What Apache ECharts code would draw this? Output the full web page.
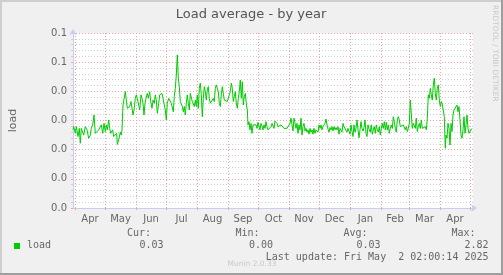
<!DOCTYPE html>
<html><head><meta charset="utf-8">
<script src="https://cdn.jsdelivr.net/npm/echarts@6/dist/echarts.min.js"></script>
<style>html,body{margin:0;padding:0;background:#f0f0f0;}#c{width:503px;height:275px;}</style>
</head><body><div id="c"></div>
<script>
// ---- data ----
const startDate = '2024-03-30';
const endDay = 400;
const monthStarts = ['2024-04-01','2024-05-01','2024-06-01','2024-07-01','2024-08-01','2024-09-01','2024-10-01','2024-11-01','2024-12-01','2025-01-01','2025-02-01','2025-03-01','2025-04-01','2025-05-01'];
const monthLabels = ['Apr','May','Jun','Jul','Aug','Sep','Oct','Nov','Dec','Jan','Feb','Mar','Apr'];
const yTickLabels = ['0.0','0.0','0.0','0.0','0.0','0.1','0.1'];
const days = [
0,0.7,2.3,3.3,5,6.3,7.3,8.3,9.7,10.7,12.3,14,15.7,17.3,18.3,19.7,21,22.3,24,25.7,27.3,28.3,29.7,31,32.3,33.3,34.3,35.7,36.7,37.7,39,39.7,40.7,41.7,42.7,43.7,44.3,45.7,47.3,48.3,49,50,51.3,52.3,53.3,54.3,55.7,56.7,58,59,60,61,62.3,63.3,64.3,65.3,66.7,68,69,70,71,72,73,74.3,75.3,76.7,77.7,79,80,81.3,82.3,83.3,84.3,85.7,86.7,87.7,89,90,91,92.3,93.3,94.3,95.7,
97,98.3,99.3,100.3,101.3,102.3,103.3,104.3,105.3,106.3,107.3,108.3,109.3,110.3,111.3,112.3,113.3,114.3,115.3,116.3,117.3,118.3,119.3,120.3,121.3,122.3,123.3,124.3,125.3,126.3,127.3,128.3,129.3,130.3,131.3,132.3,133.3,134.3,135.3,136.3,137.3,138.3,139.3,140.3,141.3,142.3,143.3,144.3,145.3,146.3,147.3,148.3,149.3,150.3,151.3,152.3,153.3,154.3,155.3,156.3,157.3,158.3,159.3,160.3,161.3,162.3,163.3,164.3,165.3,166.3,167.3,168.3,169.3,170.3,171.3,172.3,173.3,174.3,175,176,177,178,179,180,181,182,183,184,185,186,187,188,189,190,191,192,193,194,195,
196,197,198,199,200,201,202,203,204,205,206,207,208,209,210,211,212,213,214,215,216,217,218,219,220,221,222,223,224,225,226,227,228,229,230,231,232,233,234,235,236,237,238,239,240,241,242,243,244,245,246,247,248,249,250,251,252,253,254,255,256,257,258,259,260,261,262,263,264,265,266,267,268,269,270,271,272,273,274,275,276,277,278,279,280,281,282,283,284,285,286,287,288,289,290,291,292,293,294,
295,296.3,297.3,298.3,299.3,300.3,301.3,302.3,303.3,304.3,305.3,306.3,307.3,308.3,309.3,310.3,311.3,312.3,313.3,314.3,315.3,316.3,317.3,318.3,319.3,320.3,321.3,322.3,323.3,324.3,325.3,326.3,327.3,328.3,329.3,330.3,331.3,332.3,333.3,334.3,335.3,336.3,337.3,338.3,339.3,340.3,341.3,342.3,343.3,344.3,345.3,346.3,347.3,348.3,349.3,350.3,351.3,352.3,353.3,354.3,355.3,356.3,357.3,358.3,359.3,360.3,361.3,362.3,363.3,364.3,365.3,366.3,367.3,368.3,369.3,370.3,371.3,372.3,373,374,375,376,377,378,379,380,381,382,383,384,385,386,387,388,389,390,391,392,393,394,395,396,397,398,399
];
const load = [
0.0268,0.0279,0.0256,0.0279,0.0245,0.0273,0.0222,0.0273,0.0279,0.0250,0.0279,0.0268,0.0239,0.0250,0.0273,0.0285,0.0319,0.0256,0.0260,0.0268,0.0273,0.0285,0.0256,0.0290,0.0262,0.0285,0.0268,0.0302,0.0273,0.0256,0.0262,0.0268,0.0245,0.0250,0.0239,0.0256,0.0218,0.0233,0.0260,0.0250,0.0268,0.0353,0.0359,0.0399,0.0370,0.0342,0.0342,0.0348,0.0365,0.0359,0.0319,0.0336,0.0376,0.0388,0.0376,0.0382,0.0336,0.0388,0.0376,0.0359,0.0319,0.0359,0.0376,0.0393,0.0376,0.0399,0.0365,0.0342,0.0370,0.0359,0.0388,0.0370,0.0325,0.0359,0.0388,0.0390,0.0393,0.0396,0.0390,0.0336,0.0302,0.0359,0.0376,
0.0382,0.0359,0.0353,0.0330,0.0382,0.0410,0.0456,0.0525,0.0445,0.0416,0.0365,0.0359,0.0348,0.0330,0.0348,0.0319,0.0359,0.0388,0.0359,0.0336,0.0393,0.0388,0.0365,0.0359,0.0348,0.0370,0.0348,0.0388,0.0342,0.0410,0.0428,0.0388,0.0313,0.0376,0.0416,0.0399,0.0370,0.0405,0.0416,0.0376,0.0359,0.0365,0.0353,0.0376,0.0365,0.0410,0.0422,0.0424,0.0399,0.0359,0.0348,0.0388,0.0416,0.0393,0.0370,0.0365,0.0376,0.0365,0.0359,0.0388,0.0399,0.0428,0.0410,0.0365,0.0382,0.0399,0.0359,0.0342,0.0376,0.0399,0.0439,0.0376,0.0433,0.0353,0.0382,0.0393,0.0359,0.0336,0.0285,0.0296,0.0268,0.0290,0.0256,0.0285,0.0290,0.0279,0.0285,0.0273,0.0294,0.0279,0.0268,0.0290,0.0279,0.0268,0.0285,0.0273,0.0296,0.0279,0.0268,
0.0273,0.0262,0.0279,0.0290,0.0285,0.0273,0.0298,0.0302,0.0290,0.0279,0.0285,0.0273,0.0285,0.0279,0.0290,0.0273,0.0268,0.0279,0.0273,0.0276,0.0279,0.0290,0.0308,0.0313,0.0264,0.0308,0.0302,0.0273,0.0290,0.0256,0.0285,0.0268,0.0308,0.0250,0.0279,0.0290,0.0264,0.0273,0.0260,0.0268,0.0253,0.0273,0.0260,0.0268,0.0253,0.0273,0.0256,0.0268,0.0264,0.0260,0.0285,0.0273,0.0285,0.0268,0.0279,0.0285,0.0290,0.0305,0.0285,0.0271,0.0260,0.0276,0.0268,0.0279,0.0264,0.0279,0.0268,0.0276,0.0268,0.0279,0.0253,0.0273,0.0268,0.0260,0.0290,0.0279,0.0273,0.0285,0.0260,0.0273,0.0279,0.0253,0.0285,0.0262,0.0245,0.0285,0.0260,0.0273,0.0302,0.0268,0.0241,0.0268,0.0296,0.0273,0.0264,0.0276,0.0302,0.0256,0.0245,
0.0285,0.0268,0.0260,0.0285,0.0253,0.0268,0.0279,0.0256,0.0285,0.0268,0.0260,0.0279,0.0250,0.0273,0.0290,0.0273,0.0296,0.0268,0.0294,0.0268,0.0285,0.0256,0.0273,0.0285,0.0273,0.0313,0.0296,0.0273,0.0260,0.0302,0.0313,0.0302,0.0279,0.0285,0.0273,0.0285,0.0279,0.0268,0.0279,0.0262,0.0273,0.0290,0.0370,0.0365,0.0273,0.0290,0.0296,0.0273,0.0308,0.0262,0.0279,0.0290,0.0273,0.0302,0.0273,0.0279,0.0268,0.0279,0.0268,0.0308,0.0388,0.0376,0.0410,0.0388,0.0370,0.0422,0.0445,0.0393,0.0370,0.0410,0.0422,0.0370,0.0348,0.0365,0.0356,0.0353,0.0313,0.0205,0.0250,0.0239,0.0290,0.0273,0.0216,0.0290,0.0262,0.0319,0.0336,0.0333,0.0340,0.0353,0.0330,0.0348,0.0302,0.0250,0.0239,0.0268,0.0313,0.0256,0.0285,0.0319,0.0273,0.0256,0.0250,0.0268,0.0273
];
const legendName = 'load';
const legendStats = {cur:'0.03', min:'0.00', avg:'0.03', max:'2.82'};
const lastUpdate = 'Last update: Fri May  2 02:00:14 2025';

// ---- build ----
const t0 = Date.parse(startDate + 'T00:00:00Z');
const toDay = s => (Date.parse(s + 'T00:00:00Z') - t0) / 86400000;
const monthStartDays = monthStarts.map(toDay);
const monthMidDays = monthLabels.map((_, i) => (monthStartDays[i] + monthStartDays[i + 1]) / 2);
const seriesData = days.map((d, i) => [d, load[i]]);

const FONT = '#666666';
const MONO = '"DejaVu Sans Mono", monospace';
const SANS = '"DejaVu Sans", sans-serif';
const AXIS = '#c8cdf4';
const MGRID = '#f2a4a4';
const GRID = '#cfcfcf';

const chart = echarts.init(document.getElementById('c'), null, {renderer: 'canvas'});
const txt = (x, y, text, opt) => Object.assign({type: 'text', x, y, silent: true,
  style: Object.assign({text, fill: FONT, font: '10px ' + MONO, textVerticalAlign: 'middle'}, opt || {})});

chart.setOption({
  animation: false,
  backgroundColor: '#f0f0f0',
  grid: {left: 73, right: 30, top: 33, bottom: 67, show: true, backgroundColor: '#ffffff', borderWidth: 0},
  xAxis: {
    type: 'value', min: 0, max: endDay,
    axisLine: {show: true, lineStyle: {color: AXIS, width: 1}, symbol: ['none', 'arrow'], symbolSize: [6, 6], symbolOffset: [0, 4]},
    axisTick: {show: true, customValues: monthStartDays, length: 2, lineStyle: {color: MGRID}},
    axisLabel: {customValues: monthMidDays, formatter: v => monthLabels[monthMidDays.indexOf(v)] || '',
      color: FONT, fontFamily: SANS, fontSize: 10, margin: 6},
    splitLine: {show: true, lineStyle: {color: MGRID, type: [1, 2], width: 1}}
  },
  yAxis: {
    type: 'value', min: 0, max: 0.06, interval: 0.01,
    name: 'load', nameLocation: 'middle', nameRotate: 90, nameGap: 54,
    nameTextStyle: {color: FONT, fontFamily: SANS, fontSize: 11},
    axisLine: {show: true, lineStyle: {color: AXIS, width: 1}, symbol: ['none', 'arrow'], symbolSize: [6, 6], symbolOffset: [0, 4]},
    axisTick: {show: true, length: 2, lineStyle: {color: MGRID}},
    minorTick: {show: true, splitNumber: 5, length: 2, lineStyle: {color: GRID}},
    axisLabel: {formatter: v => yTickLabels[Math.round(v * 100)], color: FONT, fontFamily: SANS, fontSize: 10, margin: 6},
    splitLine: {show: true, lineStyle: {color: MGRID, type: [1, 2], width: 1}},
    minorSplitLine: {show: true, lineStyle: {color: GRID, type: [1, 2], width: 1}}
  },
  series: [{
    type: 'line', data: seriesData, showSymbol: false, symbol: 'none',
    lineStyle: {color: '#00cc00', width: 1}, z: 5
  }],
  graphic: [
    {type: 'rect', shape: {x: 0, y: 0, width: 503, height: 2}, style: {fill: '#cfcfcf'}, silent: true},
    {type: 'rect', shape: {x: 0, y: 0, width: 2, height: 275}, style: {fill: '#cfcfcf'}, silent: true},
    {type: 'rect', shape: {x: 501, y: 0, width: 2, height: 275}, style: {fill: '#9e9e9e'}, silent: true},
    {type: 'rect', shape: {x: 0, y: 273, width: 503, height: 2}, style: {fill: '#9e9e9e'}, silent: true},
    txt(251, 14.5, 'Load average - by year', {font: '13px ' + SANS, textAlign: 'center', fill: '#555555'}),
    {type: 'text', x: 495, y: 5, rotation: -Math.PI / 2, silent: true,
      style: {text: 'RRDTOOL / TOBI OETIKER', fill: '#c8c8c8', font: '7.5px ' + SANS, textAlign: 'left', textVerticalAlign: 'middle'}},
    {type: 'rect', shape: {x: 14, y: 243, width: 6, height: 6}, style: {fill: '#00cc00'}, silent: true},
    txt(27, 245.5, legendName),
    txt(151, 233, 'Cur:', {textAlign: 'right'}),
    txt(259.5, 233, 'Min:', {textAlign: 'right'}),
    txt(367.5, 233, 'Avg:', {textAlign: 'right'}),
    txt(475.5, 233, 'Max:', {textAlign: 'right'}),
    txt(163.5, 245.5, legendStats.cur, {textAlign: 'right'}),
    txt(273, 245.5, legendStats.min, {textAlign: 'right'}),
    txt(380.5, 245.5, legendStats.avg, {textAlign: 'right'}),
    txt(488.5, 245.5, legendStats.max, {textAlign: 'right'}),
    txt(488.5, 257.5, lastUpdate, {textAlign: 'right'}),
    txt(252, 264.5, 'Munin 2.0.33', {textAlign: 'center', fill: '#c8c8c8', font: '7.5px ' + SANS})
  ]
});
</script></body></html>
